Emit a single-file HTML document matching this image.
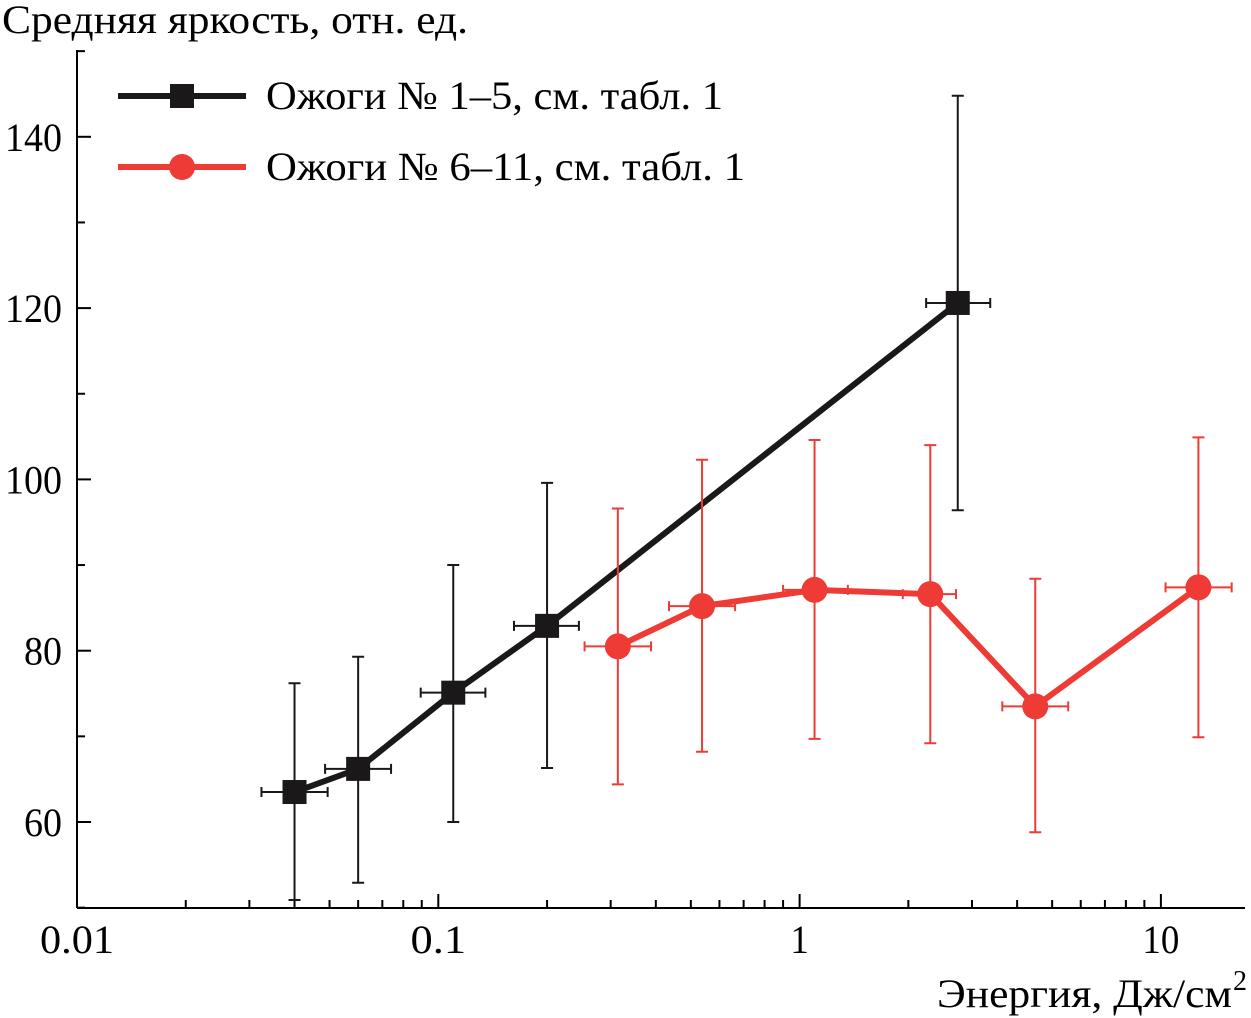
<!DOCTYPE html>
<html><head><meta charset="utf-8"><style>
html,body{margin:0;padding:0;background:#fff;}
svg{display:block;font-family:"Liberation Serif","DejaVu Serif",serif;}
</style></head><body>
<svg id="chart" width="1251" height="1018" viewBox="0 0 1251 1018" xmlns="http://www.w3.org/2000/svg"></svg>
<script>
const xTickValues=[0.01,0.1,1,10];
const xTickLabels=["0.01","0.1","1","10"];
const yTickValues=[60,80,100,120,140];
const yTickLabels=["60","80","100","120","140"];
const s1X=[0.04,0.06,0.11,0.2,2.74];
const s1Y=[63.5,66.2,75.1,82.9,120.6];
const s1YLo=[50.9,52.9,60,66.3,96.4];
const s1YHi=[76.2,79.3,90,99.6,144.8];
const s1XLo=[0.0324,0.0486,0.0894,0.162,2.24];
const s1XHi=[0.0494,0.0740,0.135,0.245,3.37];
const s2X=[0.314,0.537,1.10,2.30,4.49,12.7];
const s2Y=[80.5,85.2,87.1,86.6,73.5,87.4];
const s2YLo=[64.4,68.2,69.7,69.2,58.8,69.9];
const s2YHi=[96.6,102.3,104.6,104,88.4,104.9];
const s2XLo=[0.254,0.435,0.90,1.93,3.64,10.3];
const s2XHi=[0.388,0.663,1.36,2.71,5.54,15.7];

const svg=document.getElementById('chart');
const NS='http://www.w3.org/2000/svg';
const X0=77,DEC=361.3,Y0=908;
const xs=v=>X0+(Math.log10(v)+2)*DEC;
const ys=v=>822-(v-60)*8.565;
function mk(tag,attrs,parent){const e=document.createElementNS(NS,tag);for(const k in attrs)e.setAttribute(k,attrs[k]);(parent||svg).appendChild(e);return e;}

let ax=mk('line',{x1:X0,y1:Y0,x2:1245,y2:Y0,stroke:'#000','stroke-width':2});


let ay=mk('line',{x1:X0,y1:Y0,x2:X0,y2:50,stroke:'#000','stroke-width':2});



for(let d=-2;d<=1;d++){for(let m=1;m<=9;m++){const v=m*Math.pow(10,d);const x=xs(v);if(x>1245)break;
 const t=mk('line',{x1:x,y1:Y0,x2:x,y2:Y0-(m===1?14:8),stroke:'#000','stroke-width':2});
 
 }}
xTickValues.forEach((v,i)=>{const t=mk('text',{x:xs(v),y:953,'font-size':40,'text-anchor':'middle',textLength:xTickLabels[i].length*18.5,lengthAdjust:'spacingAndGlyphs'});t.textContent=xTickLabels[i];
 
 });
for(let v=50;v<=150;v+=10){const major=v%20===0;const y=ys(v);
 const t=mk('line',{x1:X0,y1:y,x2:X0+(major?14:8),y2:y,stroke:'#000','stroke-width':2});
 
 }
yTickValues.forEach((v,i)=>{const t=mk('text',{x:62,y:ys(v)+14,'font-size':40,'text-anchor':'end',textLength:yTickLabels[i].length*19,lengthAdjust:'spacingAndGlyphs'});t.textContent=yTickLabels[i];
 
 });

let yt=mk('text',{x:2,y:33,'font-size':40,textLength:466,lengthAdjust:'spacingAndGlyphs'});yt.textContent='Средняя яркость, отн. ед.';


let xt=mk('text',{x:937,y:1007,'font-size':40,textLength:295,lengthAdjust:'spacingAndGlyphs'});xt.textContent='Энергия, Дж/см';


let sup=mk('text',{x:1233,y:990,'font-size':28});sup.textContent='2';



function series(X,Y,YL,YH,XL,XH,color,marker,name){
 const g=mk('g',{});
 
 
 X.forEach((v,i)=>{const x=xs(v),y=ys(Y[i]);
  const e=mk('path',{d:`M${x},${ys(YL[i])}V${ys(YH[i])}M${x-6},${ys(YL[i])}h12M${x-6},${ys(YH[i])}h12M${xs(XL[i])},${y}H${xs(XH[i])}M${xs(XL[i])},${y-5}v10M${xs(XH[i])},${y-5}v10`,stroke:color,'stroke-width':2,fill:'none'},g);
  
  });
 const ln=mk('polyline',{points:X.map((v,i)=>xs(v)+','+ys(Y[i])).join(' '),stroke:color,'stroke-width':6,fill:'none'},g);
 
 
 X.forEach((v,i)=>{const x=xs(v),y=ys(Y[i]);let m;
  if(marker==='sq')m=mk('rect',{x:x-12,y:y-12,width:24,height:24,fill:color},g);
  else m=mk('circle',{cx:x,cy:y,r:13,fill:color},g);
  
  });
}
series(s1X,s1Y,s1YLo,s1YHi,s1XLo,s1XHi,'#1a1818','sq','series-burns-1-5');
series(s2X,s2Y,s2YLo,s2YHi,s2XLo,s2XHi,'#ee3b36','ci','series-burns-6-11');

function legend(y,color,marker,label,w,name){
 const g=mk('g',{});
 
 
 mk('line',{x1:118,y1:y,x2:246,y2:y,stroke:color,'stroke-width':6},g);
 if(marker==='sq')mk('rect',{x:170,y:y-12,width:24,height:24,fill:color},g);
 else mk('circle',{cx:182,cy:y,r:13,fill:color},g);
 const t=mk('text',{x:266,y:y+13,'font-size':40,textLength:w,lengthAdjust:'spacingAndGlyphs'},g);t.textContent=label;
}
legend(96,'#1a1818','sq','Ожоги № 1–5, см. табл. 1',457,'legend-entry-1');
legend(167,'#ee3b36','ci','Ожоги № 6–11, см. табл. 1',479,'legend-entry-2');
</script>
</body></html>
